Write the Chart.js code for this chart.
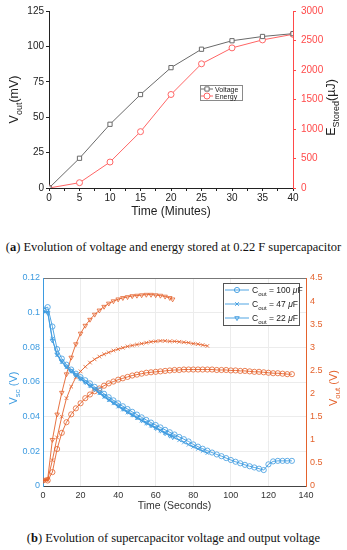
<!DOCTYPE html>
<html>
<head>
<meta charset="utf-8">
<script src="https://cdn.jsdelivr.net/npm/chart.js@4.4.0/dist/chart.umd.min.js"></script>
<style>
  html, body { margin: 0; padding: 0; background: #fff; }
  body { width: 347px; height: 550px; position: relative; overflow: hidden; }
  canvas { position: absolute; left: 0; }
  #chartA { top: 0; width: 347px; height: 226px; }
  #chartB { top: 262px; width: 347px; height: 252px; }
  .caption { position: absolute; left: 0; width: 347px; text-align: center; white-space: nowrap;
             font-family: "Liberation Serif", serif; font-size: 12.5px; line-height: 16px; color: #111; }
</style>
</head>
<body>
<canvas id="chartA" width="347" height="226"></canvas>
<div class="caption" style="top:239px">(<b>a</b>) Evolution of voltage and energy stored at 0.22 F supercapacitor</div>
<canvas id="chartB" width="347" height="252"></canvas>
<div class="caption" style="top:530px">(<b>b</b>) Evolution of supercapacitor voltage and output voltage</div>
<script>
// (a) charging of the 0.22 F supercapacitor
const minutes = [0, 5, 10, 15, 20, 25, 30, 35, 40];
const voltageMv = [0, 21, 45, 66, 85, 98, 104, 107, 109];
const energyUj = [0, 90, 440, 955, 1585, 2105, 2375, 2510, 2605];

// (b) supercapacitor voltage / output voltage for three output capacitors
const time22 = [0, 2.5, 5, 7.5, 10, 12.5, 15, 17.5, 20, 22.5, 25, 27.5, 30, 32.5, 35, 37.5, 40, 42.5, 45, 47.5, 50, 52.5, 55, 57.5, 60, 62.5, 65, 67.5, 69];
const vsc22 = [0.1003, 0.1, 0.084, 0.076, 0.072, 0.069, 0.0665, 0.0642, 0.062, 0.06, 0.058, 0.056, 0.054, 0.052, 0.0501, 0.0482, 0.0464, 0.0446, 0.0429, 0.0412, 0.0396, 0.038, 0.0365, 0.035, 0.0335, 0.032, 0.0305, 0.0291, 0.0283];
const vout22 = [0.12, 0.15, 1.0, 1.55, 2.02, 2.42, 2.78, 3.07, 3.3, 3.47, 3.6, 3.71, 3.8, 3.88, 3.95, 4.0, 4.04, 4.07, 4.09, 4.11, 4.12, 4.13, 4.14, 4.14, 4.13, 4.12, 4.1, 4.07, 4.04];

const time47 = [0, 2.5, 5, 7.5, 10, 12.5, 15, 17.5, 20, 22.5, 25, 27.5, 30, 32.5, 35, 37.5, 40, 42.5, 45, 47.5, 50, 52.5, 55, 57.5, 60, 62.5, 65, 67.5, 70, 72.5, 75, 77.5, 80, 82.5, 85, 87.5];
const vsc47 = [0.1007, 0.1005, 0.085, 0.0755, 0.0715, 0.0685, 0.066, 0.0637, 0.0617, 0.0598, 0.0578, 0.0557, 0.0535, 0.0515, 0.0495, 0.0477, 0.0458, 0.0441, 0.0424, 0.0408, 0.0392, 0.0377, 0.0362, 0.0348, 0.0334, 0.032, 0.0306, 0.0292, 0.0278, 0.0264, 0.0251, 0.0238, 0.0226, 0.0214, 0.0202, 0.019];
const vout47 = [0.12, 0.13, 0.56, 1.05, 1.5, 1.9, 2.15, 2.35, 2.48, 2.58, 2.67, 2.74, 2.8, 2.85, 2.89, 2.93, 2.96, 2.99, 3.02, 3.04, 3.06, 3.08, 3.1, 3.12, 3.13, 3.14, 3.14, 3.13, 3.13, 3.12, 3.11, 3.1, 3.08, 3.07, 3.05, 3.03];

const time100 = [0, 2.5, 5, 7.5, 10, 12.5, 15, 17.5, 20, 22.5, 25, 27.5, 30, 32.5, 35, 37.5, 40, 42.5, 45, 47.5, 50, 52.5, 55, 57.5, 60, 62.5, 65, 67.5, 70, 72.5, 75, 77.5, 80, 82.5, 85, 87.5, 90, 92.5, 95, 97.5, 100, 102.5, 105, 107.5, 110, 112.5, 115, 117.5, 120, 122.5, 125, 127.5, 130, 132.5];
const vsc100 = [0.102, 0.1032, 0.092, 0.079, 0.0735, 0.07, 0.0672, 0.0648, 0.0628, 0.061, 0.0592, 0.0572, 0.0552, 0.0532, 0.0512, 0.0494, 0.0477, 0.046, 0.0444, 0.0428, 0.0412, 0.0396, 0.0381, 0.0366, 0.0352, 0.0338, 0.0324, 0.031, 0.0297, 0.0283, 0.027, 0.0257, 0.024, 0.0227, 0.0215, 0.0204, 0.0193, 0.0182, 0.0172, 0.0161, 0.015, 0.014, 0.0131, 0.0122, 0.0114, 0.0107, 0.01, 0.0092, 0.0125, 0.0142, 0.0145, 0.0145, 0.0145, 0.0145];
const vout100 = [0.12, 0.12, 0.3, 0.8, 1.15, 1.38, 1.55, 1.68, 1.79, 1.9, 1.98, 2.05, 2.11, 2.17, 2.22, 2.26, 2.3, 2.33, 2.36, 2.39, 2.41, 2.43, 2.45, 2.46, 2.47, 2.48, 2.49, 2.5, 2.51, 2.51, 2.52, 2.52, 2.52, 2.52, 2.52, 2.52, 2.52, 2.51, 2.51, 2.51, 2.5, 2.5, 2.49, 2.49, 2.48, 2.47, 2.47, 2.46, 2.45, 2.44, 2.44, 2.43, 2.42, 2.42];

const SANS = '"Liberation Sans", Arial, sans-serif';
const BLUE = '#3d9be0';
const ORANGE = '#e4622c';
const RED = '#ff4a4a';

Chart.defaults.font.family = SANS;

function pts(xs, ys) { return xs.map((x, i) => ({ x: x, y: ys[i] })); }

// text pieces: [text, kind] kind 0 = normal, 1 = subscript, 2 = italic
function partFont(kind, size) {
    let s = kind === 1 ? size * 0.72 : size;
    return (kind === 2 ? 'italic ' : '') + s + 'px ' + SANS;
}
function measureParts(ctx, parts, size) {
    let w = 0;
    parts.forEach((p) => { ctx.font = partFont(p[1], size); w += ctx.measureText(p[0]).width; });
    return w;
}
function drawParts(ctx, parts, x, y, size) {
    ctx.textAlign = 'left';
    ctx.textBaseline = 'alphabetic';
    parts.forEach((p) => {
        ctx.font = partFont(p[1], size);
        ctx.fillText(p[0], x, p[1] === 1 ? y + size * 0.3 : y);
        x += ctx.measureText(p[0]).width;
    });
}

// rotated y axis titles with subscripts (config kept in closure)
function subTitles(items) {
    return {
        id: 'subTitles',
        afterDraw(chart) {
            let ctx = chart.ctx, a = chart.chartArea;
            items.forEach((it) => {
                let scale = chart.scales[it.axis];
                let x = it.side === 'left' ? scale.left + it.offset : scale.right - it.offset;
                let y = (a.top + a.bottom) / 2 + it.shift;
                ctx.save();
                ctx.translate(x, y);
                ctx.rotate(-Math.PI / 2);
                ctx.fillStyle = it.color;
                let w = measureParts(ctx, it.parts, it.size);
                drawParts(ctx, it.parts, -w / 2, it.size * 0.35, it.size);
                ctx.restore();
            });
        }
    };
}

// boxed legend inside the plot area
function boxLegend(cfg) {
    return {
        id: 'boxLegend',
        afterDatasetsDraw(chart) {
            let ctx = chart.ctx, a = chart.chartArea;
            let left = Math.round(a.left + cfg.x * a.width), top = Math.round(a.top + cfg.y * a.height);
            ctx.save();
            ctx.fillStyle = '#fff';
            ctx.fillRect(left, top, cfg.w, cfg.h);
            ctx.strokeStyle = cfg.borderColor;
            ctx.lineWidth = 1;
            ctx.strokeRect(left + 0.5, top + 0.5, cfg.w, cfg.h);
            cfg.items.forEach((it, i) => {
                let ds = chart.data.datasets[it.dataset];
                let y = top + cfg.padTop + i * cfg.rowH;
                let x0 = left + cfg.lineStart;
                ctx.strokeStyle = ds.borderColor;
                ctx.lineWidth = ds.borderWidth;
                ctx.beginPath();
                ctx.moveTo(x0, y);
                ctx.lineTo(x0 + cfg.lineLen, y);
                ctx.stroke();
                ctx.fillStyle = ds.pointBackgroundColor;
                Chart.helpers.drawPoint(ctx, {
                    pointStyle: ds.pointStyle, rotation: ds.pointRotation || 0,
                    radius: ds.pointRadius, borderWidth: ds.pointBorderWidth || 1
                }, x0 + cfg.lineLen / 2, y);
                ctx.fillStyle = cfg.textColor;
                drawParts(ctx, it.parts, x0 + cfg.lineLen + cfg.textGap, y + cfg.size * 0.36, cfg.size);
            });
            ctx.restore();
        }
    };
}

// ---------- chart (a) ----------
new Chart(document.getElementById('chartA'), {
    type: 'line',
    data: {
        datasets: [
            {
                label: 'Voltage', data: pts(minutes, voltageMv), yAxisID: 'y',
                borderColor: '#6a6a6a', borderWidth: 1, tension: 0,
                pointStyle: 'rect', pointRadius: 3, pointBorderWidth: 1,
                pointBorderColor: '#6a6a6a', pointBackgroundColor: '#fff'
            },
            {
                label: 'Energy', data: pts(minutes, energyUj), yAxisID: 'y2',
                borderColor: '#ff6565', borderWidth: 1, tension: 0,
                pointStyle: 'circle', pointRadius: 3, pointBorderWidth: 1,
                pointBorderColor: '#ff6565', pointBackgroundColor: '#fff'
            }
        ]
    },
    options: {
        responsive: false, animation: false,
        layout: { padding: { top: 7, left: 0, right: 0, bottom: 0 } },
        scales: {
            x: {
                type: 'linear', min: 0, max: 40,
                ticks: { stepSize: 2.5, autoSkip: false, maxRotation: 0, padding: 1, color: '#222', font: { size: 10 },
                         callback: (v) => (v % 5 === 0 ? String(v) : '') },
                grid: { drawOnChartArea: false, tickLength: 3, color: '#222' },
                border: { color: '#222' },
                title: { display: true, text: 'Time (Minutes)', color: '#222', font: { size: 12 }, padding: { top: 0, bottom: 7 } },
                afterFit: (s) => { s.height = 38; }
            },
            y: {
                position: 'left', min: 0, max: 125,
                ticks: { stepSize: 25, padding: 2, color: '#222', font: { size: 10 } },
                grid: { drawOnChartArea: false, tickLength: 3, color: '#222' },
                border: { color: '#222' },
                afterFit: (s) => { s.width = 49; }
            },
            y2: {
                position: 'right', min: 0, max: 3000,
                ticks: { stepSize: 500, padding: 5, color: RED, font: { size: 10 }, callback: (v) => String(v) },
                grid: { drawOnChartArea: false, tickLength: 3, color: RED },
                border: { color: RED },
                afterFit: (s) => { s.width = 54; }
            }
        },
        plugins: { legend: { display: false }, tooltip: { enabled: false } }
    },
    plugins: [
        subTitles([
            { axis: 'y', side: 'left', offset: 14, shift: 0, size: 12.5, color: '#222',
              parts: [['V', 0], ['out', 1], ['(mV)', 0]] },
            { axis: 'y2', side: 'right', offset: 16, shift: 8, size: 12.5, color: '#222',
              parts: [['E', 0], ['Stored', 1], ['(\u00b5J)', 0]] }
        ]),
        boxLegend({
            x: 0.619, y: 0.42, w: 42, h: 15, borderColor: '#8a8a8a', textColor: '#222',
            padTop: 4, rowH: 7, lineStart: 1, lineLen: 12, textGap: 2, size: 7,
            items: [
                { dataset: 0, parts: [['Voltage', 0]] },
                { dataset: 1, parts: [['Energy', 0]] }
            ]
        })
    ]
});

// ---------- chart (b) ----------
function vscSet(label, xs, ys, style, rot) {
    return {
        label: label, data: pts(xs, ys), yAxisID: 'y',
        borderColor: BLUE, borderWidth: 0.9, tension: 0,
        pointStyle: style, pointRotation: rot, pointRadius: 2.6, pointBorderWidth: 0.8,
        pointBorderColor: BLUE, pointBackgroundColor: 'rgba(0,0,0,0)'
    };
}
function voutSet(label, xs, ys, style, rot) {
    return {
        label: label, data: pts(xs, ys), yAxisID: 'y2',
        borderColor: ORANGE, borderWidth: 0.9, tension: 0,
        pointStyle: style, pointRotation: rot, pointRadius: 2.6, pointBorderWidth: 0.8,
        pointBorderColor: ORANGE, pointBackgroundColor: 'rgba(0,0,0,0)'
    };
}

new Chart(document.getElementById('chartB'), {
    type: 'line',
    data: {
        datasets: [
            vscSet('Vsc 100', time100, vsc100, 'circle', 0),
            vscSet('Vsc 47', time47, vsc47, 'crossRot', 0),
            vscSet('Vsc 22', time22, vsc22, 'triangle', 180),
            voutSet('Vout 100', time100, vout100, 'circle', 0),
            voutSet('Vout 47', time47, vout47, 'crossRot', 0),
            voutSet('Vout 22', time22, vout22, 'triangle', 180)
        ]
    },
    options: {
        responsive: false, animation: false,
        layout: { padding: { top: 16, left: 0, right: 0, bottom: 0 } },
        scales: {
            x: {
                type: 'linear', min: 0, max: 140,
                ticks: { stepSize: 20, maxRotation: 0, padding: 4, color: '#333', font: { size: 9 } },
                grid: { color: '#ececec', drawTicks: false },
                border: { color: '#444' },
                title: { display: true, text: 'Time (Seconds)', color: '#333', font: { size: 10.5 }, padding: { top: 0, bottom: 2 } },
                afterFit: (s) => { s.height = 28; }
            },
            xTop: {
                type: 'linear', axis: 'x', position: 'top', min: 0, max: 140,
                ticks: { display: false },
                grid: { drawOnChartArea: false, drawTicks: false },
                border: { color: '#777' },
                afterFit: (s) => { s.height = 0; }
            },
            y: {
                position: 'left', min: 0, max: 0.12,
                ticks: { stepSize: 0.02, padding: 3, color: BLUE, font: { size: 9 },
                         callback: (v) => String(+v.toFixed(2)) },
                grid: { color: '#ececec', drawTicks: false },
                border: { color: BLUE },
                afterFit: (s) => { s.width = 43; }
            },
            y2: {
                position: 'right', min: 0, max: 4.5,
                ticks: { stepSize: 0.5, padding: 4, color: ORANGE, font: { size: 9 },
                         callback: (v) => String(+v.toFixed(1)) },
                grid: { drawOnChartArea: false, drawTicks: false },
                border: { color: ORANGE },
                afterFit: (s) => { s.width = 41; }
            }
        },
        plugins: { legend: { display: false }, tooltip: { enabled: false } }
    },
    plugins: [
        subTitles([
            { axis: 'y', side: 'left', offset: 13, shift: 6, size: 11, color: BLUE,
              parts: [['V', 0], ['sc', 1], [' (V)', 0]] },
            { axis: 'y2', side: 'right', offset: 14, shift: 6, size: 11, color: ORANGE,
              parts: [['V', 0], ['out', 1], [' (V)', 0]] }
        ]),
        boxLegend({
            x: 0.684, y: 0.024, w: 76, h: 42, borderColor: '#555', textColor: '#222',
            padTop: 7, rowH: 14, lineStart: 2, lineLen: 24, textGap: 3, size: 8.5,
            items: [
                { dataset: 0, parts: [['C', 0], ['out', 1], [' = 100 ', 0], ['\u03bc', 2], ['F', 0]] },
                { dataset: 1, parts: [['C', 0], ['out', 1], [' = 47 ', 0], ['\u03bc', 2], ['F', 0]] },
                { dataset: 2, parts: [['C', 0], ['out', 1], [' = 22 ', 0], ['\u03bc', 2], ['F', 0]] }
            ]
        })
    ]
});
</script>
</body>
</html>
